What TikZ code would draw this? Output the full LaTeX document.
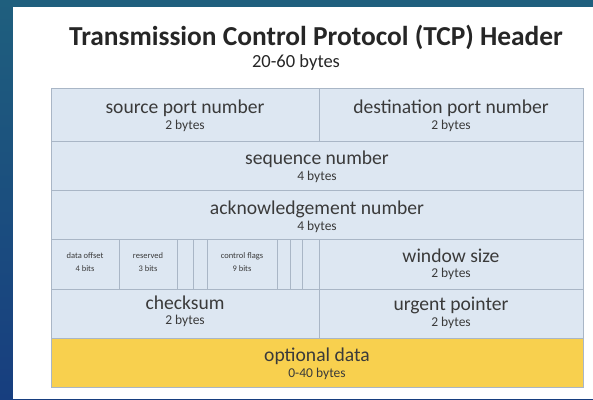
\documentclass[tikz,border=0pt]{standalone}
\usepackage{fontspec}
\setmainfont{Carlito}

\definecolor{bgtop}{HTML}{1F5F7E}
\definecolor{bgbot}{HTML}{173E7F}
\definecolor{cellblue}{HTML}{DDE7F2}
\definecolor{cellline}{HTML}{A9B6C6}
\definecolor{optyellow}{HTML}{F8D04E}
\definecolor{txtgray}{HTML}{3A3A3A}

\tikzset{
  cell/.style={fill=cellblue,draw=cellline,line width=0.8pt},
  optcell/.style={fill=optyellow,draw=cellline,line width=0.8pt},
  fieldname/.style={text=txtgray,font=\fontsize{19.6}{20}\selectfont,inner sep=0pt},
  fieldsize/.style={text=txtgray,font=\fontsize{13.5}{14}\selectfont,inner sep=0pt},
  bitname/.style={text=txtgray,font=\fontsize{8.5}{9}\selectfont,inner sep=0pt},
}

\begin{document}
\begin{tikzpicture}[x=1pt,y=-1pt]
  \useasboundingbox(0,0)rectangle(593,399);
  % slide background and white panel
  \shade[top color=bgtop,bottom color=bgbot](0,0)rectangle(593,399);
  \fill[white](13,7)rectangle(593,399);

  \node[text=black!85,font=\fontsize{27.4}{28}\selectfont\bfseries] (title) at (316,37) {Transmission Control Protocol (TCP) Header};
  \node[text=black!85,font=\fontsize{18.5}{19}\selectfont] (total) at (296,63) {20-60 bytes};

  % header rows
  \draw[cell](51,88)rectangle(319,141);
  \draw[cell](319,88)rectangle(583,141);
  \draw[cell](51,141)rectangle(583,190);
  \draw[cell](51,190)rectangle(583,239);
  \foreach \a/\b in {51/119,119/177,177/193,193/207,207/277,277/290,290/302,302/319}
    \draw[cell](\a,239)rectangle(\b,289);
  \draw[cell](319,239)rectangle(583,289);
  \draw[cell](51,289)rectangle(319,338);
  \draw[cell](319,289)rectangle(583,338);
  \draw[optcell](51,338)rectangle(583,387);

  \node[fieldname] (srcport) at (185,108) {source port number};
  \node[fieldsize] (srcsize) at (185,126) {2 bytes};
  \node[fieldname] (dstport) at (451,108) {destination port number};
  \node[fieldsize] (dstsize) at (451,126) {2 bytes};
  \node[fieldname] (seqnum) at (317,159) {sequence number};
  \node[fieldsize] (seqsize) at (317,177) {4 bytes};
  \node[fieldname] (acknum) at (317,209) {acknowledgement number};
  \node[fieldsize] (acksize) at (317,227) {4 bytes};
  \node[bitname] (offset) at (85,256) {data offset};
  \node[bitname] (offsize) at (85,269) {4 bits};
  \node[bitname] (resvd) at (148,256) {reserved};
  \node[bitname] (ressize) at (148,269) {3 bits};
  \node[bitname] (flags) at (242,256) {control flags};
  \node[bitname] (flagsize) at (242,269) {9 bits};
  \node[fieldname] (window) at (451,256) {window size};
  \node[fieldsize] (winsize) at (451,274) {2 bytes};
  \node[fieldname] (chksum) at (185,303) {checksum};
  \node[fieldsize] (chksize) at (185,321) {2 bytes};
  \node[fieldname] (urgent) at (451,305) {urgent pointer};
  \node[fieldsize] (urgsize) at (451,323) {2 bytes};
  \node[fieldname] (optdata) at (317,356) {optional data};
  \node[fieldsize] (optsize) at (317,374) {0-40 bytes};
\end{tikzpicture}
\end{document}
